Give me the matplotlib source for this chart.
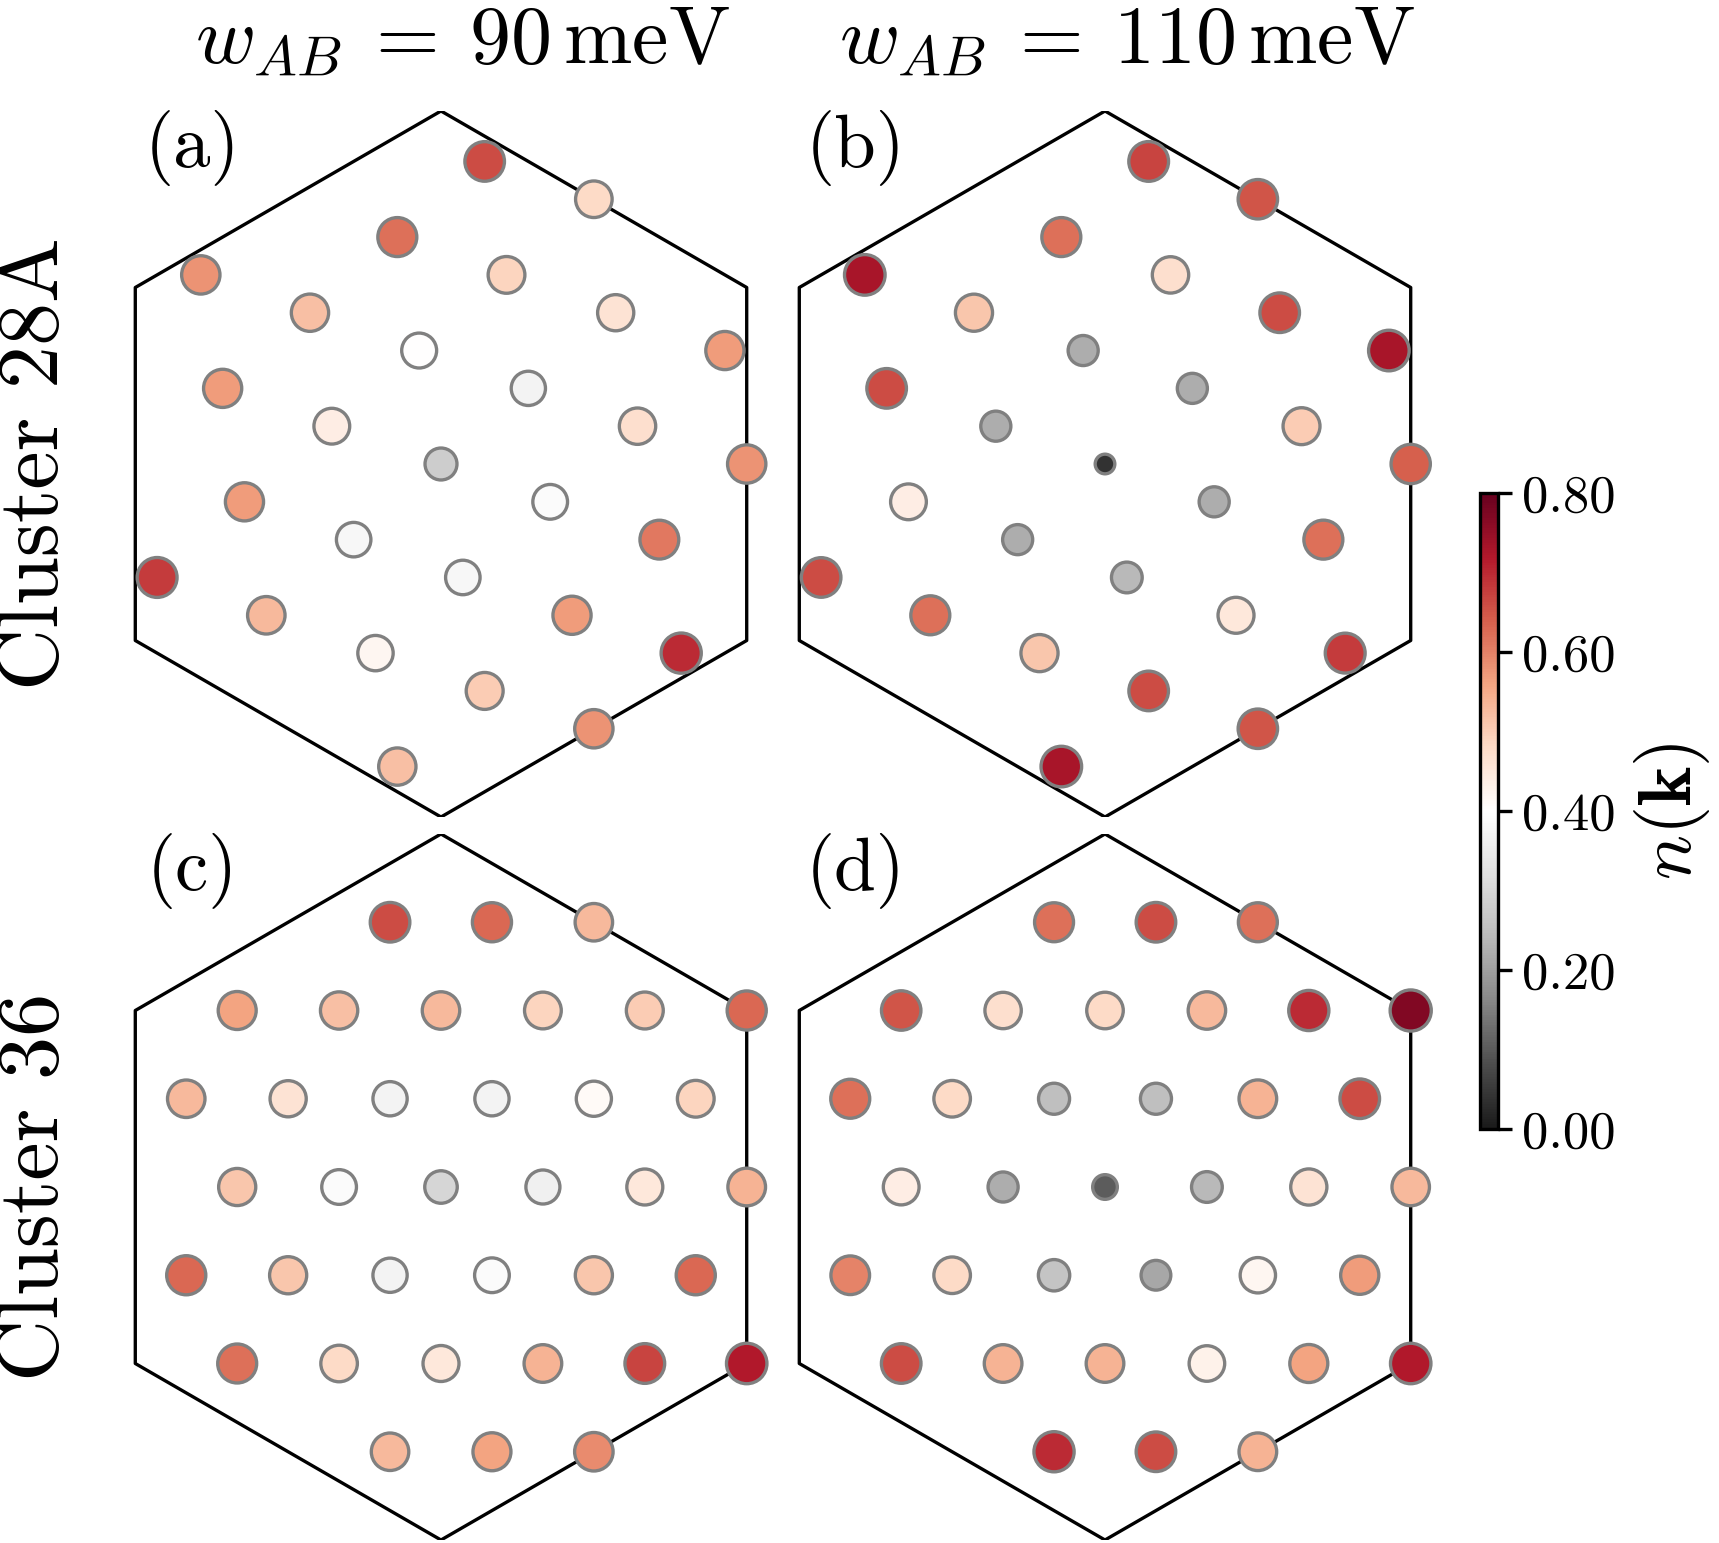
import numpy as np
import matplotlib
matplotlib.use('Agg')
import matplotlib.pyplot as plt

plt.rcParams['font.family'] = 'serif'
plt.rcParams['font.serif'] = ['cmr10']
plt.rcParams['mathtext.fontset'] = 'cm'
plt.rcParams['axes.unicode_minus'] = False
plt.rcParams['axes.formatter.use_mathtext'] = True

# ---- data ----
col_titles = [r'$w_{AB} \:=\: 90\,\mathrm{meV}$', r'$w_{AB} \:=\: 110\,\mathrm{meV}$']
row_titles = ['Cluster 28A', 'Cluster 36']
panel_tags = ['(a)', '(b)', '(c)', '(d)']

# 28A cluster: k = m*b1 + n*b2 (hexagon circumradius = 1)
m28 = [1, 2, 0, -2, 1, -1, 2, 3, 0, -2, 1, -1, 2, 3, 0, -2, 1, -1, 2, -3, 0, -2, 1, -1, 2, 0, 1, -1]
n28 = [3, 3, 2, 1, 2, 1, 2, 2, 1, 0, 1, 0, 1, 1, 0, -1, 0, -1, 0, -2, -1, -2, -1, -2, -1, -2, -2, -3]
nk_28_90 = [0.66, 0.48, 0.62, 0.58, 0.49, 0.52, 0.46, 0.57, 0.40, 0.57, 0.37, 0.44, 0.47, 0.58,
            0.28, 0.57, 0.39, 0.38, 0.61, 0.68, 0.38, 0.53, 0.57, 0.42, 0.70, 0.50, 0.58, 0.52]
nk_28_110 = [0.67, 0.65, 0.62, 0.73, 0.47, 0.51, 0.66, 0.73, 0.22, 0.66, 0.22, 0.22, 0.50, 0.64,
             0.04, 0.44, 0.22, 0.22, 0.62, 0.66, 0.24, 0.62, 0.45, 0.51, 0.68, 0.66, 0.65, 0.73]

# 36 cluster: k = m*c1 + r*c2, rows from top to bottom
m36 = [-2, -1, 0,
       -3, -2, -1, 0, 1, 2,
       -3, -2, -1, 0, 1, 2,
       -2, -1, 0, 1, 2, 3,
       -2, -1, 0, 1, 2, 3,
       -1, 0, 1, 2, 3, 4,
       1, 2, 3]
r36 = [3] * 3 + [2] * 6 + [1] * 6 + [0] * 6 + [-1] * 6 + [-2] * 6 + [-3] * 3
nk_36_90 = [0.66, 0.63, 0.53,
            0.56, 0.52, 0.53, 0.49, 0.50, 0.63,
            0.53, 0.46, 0.37, 0.37, 0.41, 0.49,
            0.51, 0.39, 0.30, 0.36, 0.45, 0.54,
            0.63, 0.51, 0.37, 0.39, 0.51, 0.63,
            0.62, 0.48, 0.45, 0.54, 0.67, 0.72,
            0.53, 0.56, 0.59]
nk_36_110 = [0.62, 0.66, 0.62,
             0.65, 0.47, 0.48, 0.53, 0.70, 0.77,
             0.62, 0.48, 0.25, 0.25, 0.54, 0.66,
             0.44, 0.22, 0.10, 0.24, 0.46, 0.53,
             0.60, 0.48, 0.26, 0.21, 0.42, 0.57,
             0.66, 0.54, 0.54, 0.43, 0.56, 0.72,
             0.70, 0.66, 0.54]

# reciprocal lattice steps of the two clusters
b1 = np.array([5 * np.sqrt(3) / 28, -3 / 28])
rot = np.array([[-0.5, -np.sqrt(3) / 2], [np.sqrt(3) / 2, -0.5]])
b2 = rot @ b1
c1 = np.array([np.sqrt(3) / 6, 0.0])
c2 = np.array([np.sqrt(3) / 12, 0.25])

k28 = np.outer(m28, b1) + np.outer(n28, b2)
k36 = np.outer(m36, c1) + np.outer(r36, c2)

ang = np.deg2rad(90 + 60 * np.arange(7))
hex_x, hex_y = np.cos(ang), np.sin(ang)

W, H = 1719, 1543
fig = plt.figure(figsize=(W / 200, H / 200), dpi=200)

R = 353.0  # px per unit
centers = [(441, 464), (1105, 464), (441, 1187), (1105, 1187)]
panels = [(k28, nk_28_90), (k28, nk_28_110), (k36, nk_36_90), (k36, nk_36_110)]

cmap = plt.get_cmap('RdGy_r')
for (cx, cy), (k, nk), tag in zip(centers, panels, panel_tags):
    ax = fig.add_axes([(cx - 0.95 * R) / W, (H - cy - R) / H, 1.9 * R / W, 2 * R / H])
    ax.plot(hex_x, hex_y, color='k', lw=1.2, zorder=1)
    nk = np.array(nk)
    sc = ax.scatter(k[:, 0], k[:, 1], c=nk, cmap=cmap, vmin=0, vmax=0.8,
                    s=250 * np.sqrt(nk), edgecolors='gray', linewidths=1.2,
                    zorder=2, clip_on=False)
    ax.set_xlim(-0.95, 0.95)
    ax.set_ylim(-1, 1)
    ax.axis('off')
    fig.text((cx - 249) / W, 1 - (cy - 316) / H, tag, fontsize=27, ha='center', va='center')

for i, t in enumerate(col_titles):
    fig.text((centers[i][0] + 22) / W, 1 - 42 / H, t, fontsize=29.5, ha='center', va='center')
for i, t in enumerate(row_titles):
    fig.text(36 / W, 1 - centers[2 * i][1] / H, t, fontsize=31, rotation=90,
             ha='center', va='center')

cax = fig.add_axes([1480 / W, (H - 1129) / H, 18 / W, 636 / H])
cb = fig.colorbar(sc, cax=cax, ticks=[0, 0.2, 0.4, 0.6, 0.8], format='%.2f')
cb.ax.tick_params(labelsize=19, length=5, width=1.2)
cb.outline.set_linewidth(1.2)
cb.set_label(r'$n(\mathbf{k})$', fontsize=27, labelpad=6)

fig.savefig('out.png', dpi=200)
